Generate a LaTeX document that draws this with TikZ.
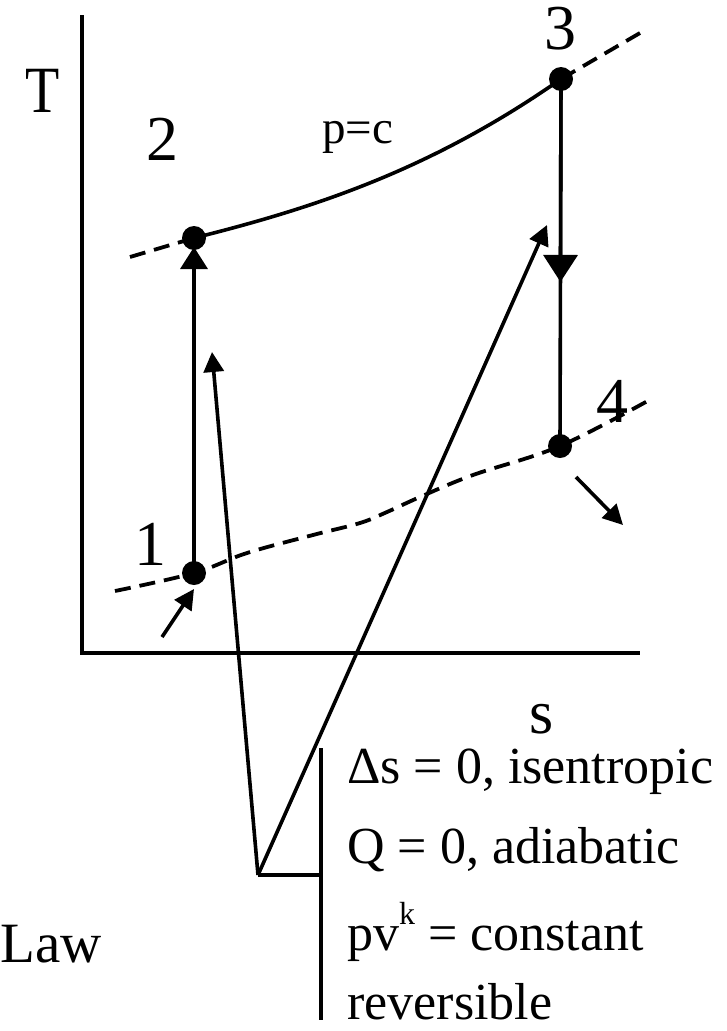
\documentclass[tikz,border=0pt]{standalone}
\usepackage{fontspec}
\setmainfont{Liberation Serif}
\usetikzlibrary{arrows.meta,calc}
\begin{document}
\begin{tikzpicture}[x=1pt,y=-1pt,
  line/.style={line width=3.6pt},
  dashline/.style={line width=3.8pt,dash pattern=on 16pt off 9pt},
  dot/.style={circle,fill=black,inner sep=0pt,minimum size=24pt},
  lbl/.style={font=\fontsize{64}{64}\selectfont,inner sep=0pt,anchor=base},
  txt/.style={font=\fontsize{52}{52}\selectfont,inner sep=0pt,anchor=base west},
  bighead/.style={-{Triangle[length=22pt,width=27pt]}},
  midhead/.style={-{Triangle[length=27pt,width=34pt]}},
  smallhead/.style={-{Triangle[length=20pt,width=20pt]}}]
\useasboundingbox (0,0) rectangle (727,1031);
% axes
\coordinate (ytop) at (82,15);
\coordinate (org) at (82,653);
\coordinate (xend) at (640,653);
\draw[line] (ytop) -- (org) -- (xend);
\node[lbl,font=\fontsize{56}{56}\selectfont] (T) at (43,112) {\scalebox{1}[1.18]{T}};
\node[lbl,font=\fontsize{62}{62}\selectfont] (S) at (542,733) {s};
% state points
\node[dot] (p1) at (194,573) {};
\node[dot] (p2) at (194,238) {};
\node[dot] (p3) at (561,79) {};
\node[dot] (p4) at (560,446) {};
\node[lbl] (l1) at (150,565) {1};
\node[lbl] (l2) at (162,160) {2};
\node[lbl] (l3) at (560,49) {3};
\node[lbl] (l4) at (612,422) {4};
\node[font=\fontsize{47}{47}\selectfont,inner sep=0pt,anchor=base west] (pc) at (322,143) {p=c};
% dashed isobars
\coordinate (d2a) at (130,257);
\draw[dashline] (d2a) -- (p2.center);
\coordinate (d3b) at (640,33);
\draw[dashline] (d3b) -- (p3.center);
\draw[dashline] plot[smooth,tension=0.6] coordinates {(115,591) (194,573) (247,553) (313,535) (360,523) (387,512) (420,497) (473,475) (560,446) (653,398)};
% constant pressure heat addition
\draw[line] (p2.center) .. controls (314,208) and (431,170) .. (p3.center);
% 1 -> 2 compression
\draw[line,bighead] (p1.center) -- ($(p2.center)+(0,9)$);
% 3 -> 4 expansion
\draw[line] (p3.center) -- (p4.center);
\draw[line,midhead] (p3.center) -- ($(p3.center)!0.553!(p4.center)$);
% inlet / outlet arrows
\coordinate (in0) at (162,637);
\coordinate (in1) at (194,589);
\draw[line,smallhead] (in0) -- (in1);
\coordinate (out0) at (576,477);
\coordinate (out1) at (623,525);
\draw[line,smallhead] (out0) -- (out1);
% law bracket
\coordinate (J) at (258,875);
\coordinate (Bt) at (321,748);
\coordinate (Bb) at (321,1020);
\coordinate (Bm) at (321,875);
\coordinate (a12) at (212,352);
\coordinate (a34) at (547,225);
\draw[line] (Bt) -- (Bb);
\draw[line] (J) -- (Bm);
\draw[line,smallhead] (J) -- (a12);
\draw[line,smallhead] (J) -- (a34);
\node[txt] (t1) at (347,783) {Δs = 0, isentropic};
\node[txt] (t2) at (347,863) {Q = 0, adiabatic};
\node[txt] (t3) at (347,950) {pv\raisebox{26pt}{\fontsize{32}{32}\selectfont k} = constant};
\node[txt] (t4) at (347,1019) {reversible};
\node[txt,font=\fontsize{57}{57}\selectfont] (law) at (0,962) {Law};
\end{tikzpicture}
\end{document}
